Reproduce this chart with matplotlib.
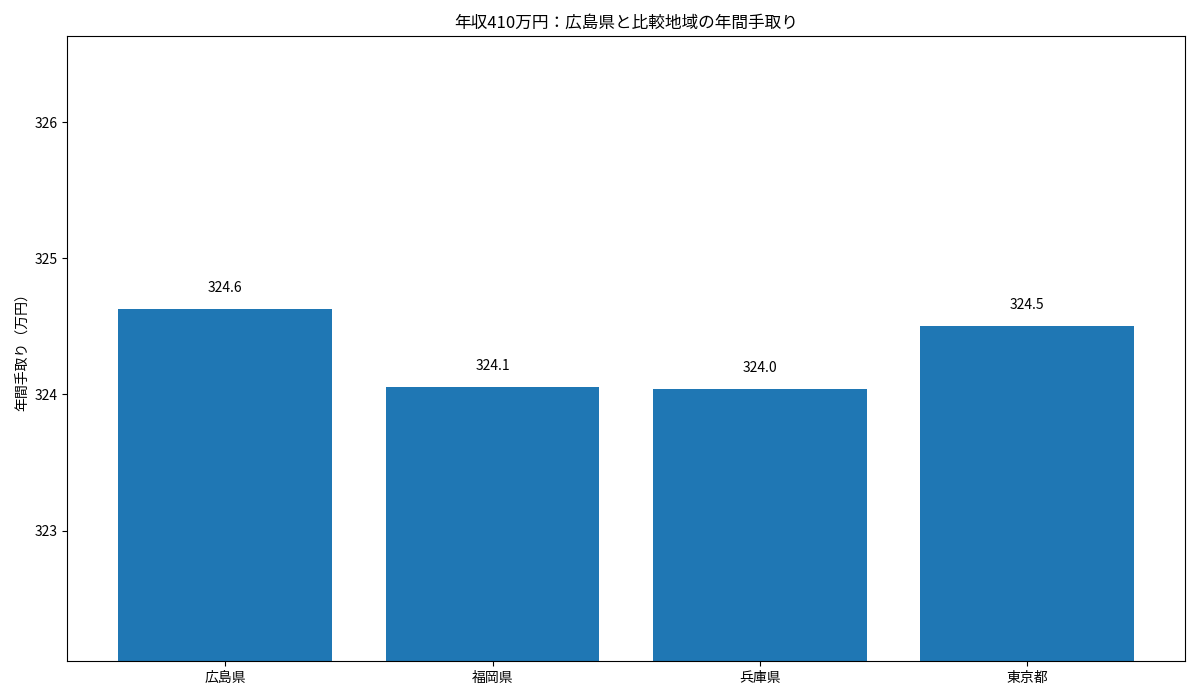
import matplotlib
matplotlib.use("Agg")
import matplotlib.pyplot as plt

plt.rcParams['font.family'] = ['Noto Sans CJK JP', 'DejaVu Sans']

regions = ["広島県", "福岡県", "兵庫県", "東京都"]
takehome = [324.63, 324.055, 324.04, 324.505]

fig, ax = plt.subplots(figsize=(12, 7), dpi=100)
bars = ax.bar(regions, takehome, color="#1f77b4", width=0.8)
for b, v in zip(bars, takehome):
    ax.annotate(f"{v:.1f}", (b.get_x() + b.get_width() / 2, v),
                xytext=(0, 10), textcoords="offset points",
                ha="center", va="bottom", fontsize=10)
ax.set_ylim(322.04, 326.63)
ax.set_yticks([323, 324, 325, 326])
ax.set_title("年収410万円：広島県と比較地域の年間手取り", fontsize=12)
ax.set_ylabel("年間手取り（万円）")
fig.tight_layout()
fig.savefig("out.png")
